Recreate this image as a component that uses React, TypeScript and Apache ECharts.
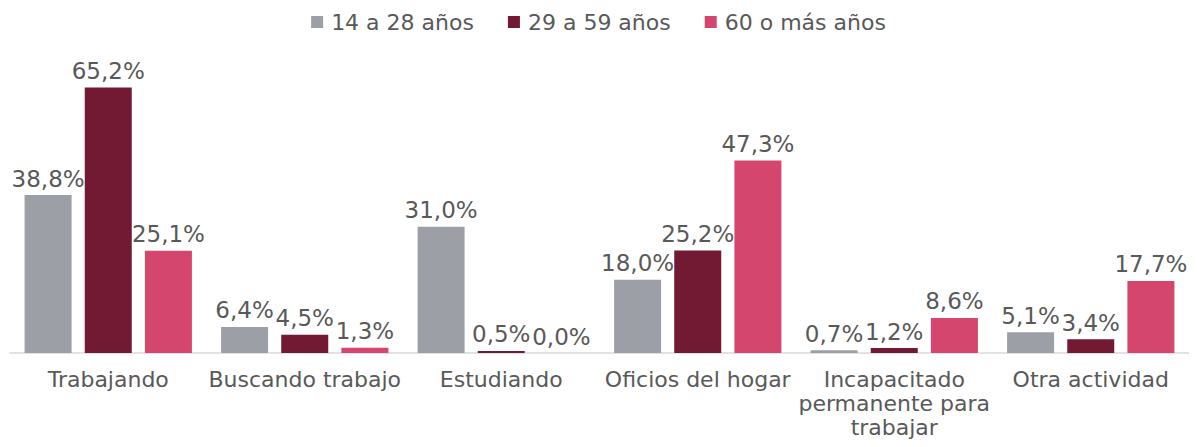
import React, { useEffect, useRef } from "react";
import * as echarts from "echarts";

const categories = [
  "Trabajando",
  "Buscando trabajo",
  "Estudiando",
  "Oficios del hogar",
  "Incapacitado\npermanente para\ntrabajar",
  "Otra actividad",
];
const seriesNames = ["14 a 28 años", "29 a 59 años", "60 o más años"];
const young = [38.8, 6.4, 31.0, 18.0, 0.7, 5.1];
const adult = [65.2, 4.5, 0.5, 25.2, 1.2, 3.4];
const senior = [25.1, 1.3, 0.0, 47.3, 8.6, 17.7];
const colors = ["#9D9FA6", "#721933", "#D5466F"];

const FONT = "DejaVu Sans, Verdana, sans-serif";
const TEXT = "#595959";

export default function App() {
  const ref = useRef<HTMLDivElement>(null);
  useEffect(() => {
    const chart = echarts.init(ref.current!, null, { renderer: "svg" });
    const fmt = (p: any) => p.value.toFixed(1).replace(".", ",") + "%";
    const mk = (name: string, data: number[], color: string) => ({
      name,
      type: "bar",
      data,
      barWidth: 47,
      barGap: "28%",
      itemStyle: { color },
      label: {
        show: true,
        position: "top",
        distance: 5,
        formatter: fmt,
        color: TEXT,
        fontSize: 23,
        fontFamily: FONT,
      },
    });
    chart.setOption({
      animation: false,
      legend: {
        top: 3,
        left: "center",
        padding: 0,
        itemWidth: 12,
        itemHeight: 12,
        itemGap: 34,
        itemStyle: { borderWidth: 0 },
        icon: "rect",
        textStyle: {
          color: TEXT,
          fontSize: 22,
          fontFamily: FONT,
          padding: [0, 0, 0, 3],
        },
        data: seriesNames,
      },
      grid: { left: 2, right: 0, top: 60, bottom: 80, containLabel: false },
      xAxis: {
        type: "category",
        data: categories,
        axisLine: { lineStyle: { color: "#D9D9D9", width: 1.5 } },
        axisTick: { show: false },
        axisLabel: {
          color: TEXT,
          fontSize: 22,
          fontFamily: FONT,
          margin: 14,
          lineHeight: 24,
          interval: 0,
        },
      },
      yAxis: { type: "value", min: 0, max: 70, show: false },
      series: [
        mk(seriesNames[0], young, colors[0]),
        mk(seriesNames[1], adult, colors[1]),
        mk(seriesNames[2], senior, colors[2]),
      ],
    });
    return () => chart.dispose();
  }, []);
  return <div ref={ref} style={{ width: 1181, height: 431 }} />;
}
